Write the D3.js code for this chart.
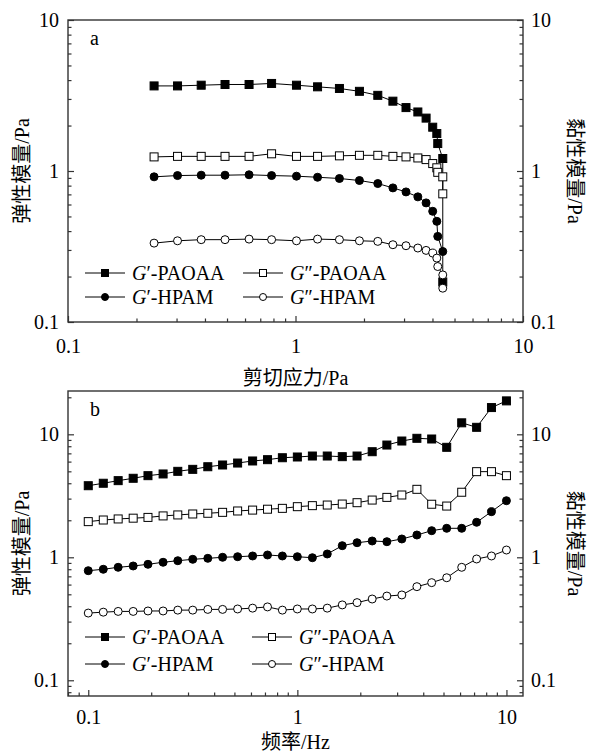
<!DOCTYPE html>
<html>
<head>
<meta charset="utf-8">
<script src="https://cdn.jsdelivr.net/npm/d3@7"></script>
<style>
  html, body { margin: 0; padding: 0; background: #fff; }
  svg { display: block; }
</style>
</head>
<body>
<svg id="chart" width="589" height="754"></svg>
<script>
// ---------------- DATA ----------------
// Panel a: shear stress sweep (Pa)
const stressA = [0.239, 0.303, 0.385, 0.490, 0.625, 0.785, 1.01, 1.25, 1.56, 1.91, 2.30, 2.68, 3.06, 3.45, 3.75, 4.01, 4.18, 4.22, 4.44, 4.44];
const gpPAOAA_A  = [3.66, 3.66, 3.70, 3.74, 3.74, 3.80, 3.70, 3.61, 3.52, 3.37, 3.17, 2.90, 2.63, 2.46, 2.24, 1.95, 1.77, 1.52, 1.21, 0.184];
const gppPAOAA_A = [1.24, 1.25, 1.25, 1.25, 1.25, 1.30, 1.25, 1.25, 1.26, 1.27, 1.27, 1.25, 1.24, 1.22, 1.19, 1.12, 1.05, 0.98, 0.915, 0.706];
const gpHPAM_A   = [0.915, 0.933, 0.938, 0.938, 0.944, 0.933, 0.924, 0.909, 0.892, 0.865, 0.826, 0.773, 0.727, 0.674, 0.615, 0.541, 0.464, 0.369, 0.293];
const gppHPAM_A  = [0.333, 0.345, 0.351, 0.351, 0.354, 0.351, 0.345, 0.354, 0.351, 0.345, 0.342, 0.325, 0.320, 0.309, 0.298, 0.286, 0.265, 0.233, 0.205, 0.1675];

// Panel b: frequency sweep (Hz)
const freqB = [0.1, 0.118, 0.139, 0.164, 0.193, 0.228, 0.268, 0.316, 0.373, 0.439, 0.518, 0.611, 0.720, 0.848, 1.0, 1.18, 1.39, 1.64, 1.93, 2.28, 2.68, 3.16, 3.73, 4.39, 5.18, 6.11, 7.20, 8.48, 10];
const gpPAOAA_B  = [3.82, 4.00, 4.20, 4.39, 4.61, 4.76, 5.00, 5.19, 5.45, 5.63, 5.84, 6.07, 6.22, 6.45, 6.54, 6.66, 6.66, 6.58, 6.66, 7.22, 8.18, 8.82, 9.28, 9.16, 7.84, 12.4, 11.4, 16.5, 18.7];
const gppPAOAA_B = [1.95, 2.01, 2.05, 2.08, 2.11, 2.17, 2.21, 2.25, 2.28, 2.32, 2.38, 2.42, 2.46, 2.50, 2.58, 2.63, 2.66, 2.71, 2.78, 2.92, 3.07, 3.21, 3.57, 2.70, 2.61, 3.38, 4.97, 4.97, 4.61];
const gpHPAM_B   = [0.778, 0.799, 0.829, 0.850, 0.877, 0.911, 0.938, 0.963, 0.981, 1.0, 1.011, 1.025, 1.044, 1.025, 1.011, 0.992, 1.064, 1.243, 1.314, 1.357, 1.339, 1.409, 1.518, 1.646, 1.721, 1.721, 1.926, 2.35, 2.885];
const gppHPAM_B  = [0.352, 0.358, 0.363, 0.363, 0.366, 0.366, 0.372, 0.372, 0.377, 0.377, 0.380, 0.386, 0.395, 0.372, 0.380, 0.380, 0.386, 0.410, 0.428, 0.458, 0.484, 0.494, 0.577, 0.622, 0.682, 0.829, 0.969, 1.025, 1.146];

const seriesNames = ["G′-PAOAA", "G″-PAOAA", "G′-HPAM", "G″-HPAM"];
const majorTicks = [0.1, 1, 10];
const axisTitlesA = { x: "剪切应力/Pa", yl: "弹性模量/Pa", yr: "黏性模量/Pa", tag: "a" };
const axisTitlesB = { x: "频率/Hz",     yl: "弹性模量/Pa", yr: "黏性模量/Pa", tag: "b" };

// ---------------- DRAWING ----------------
const svg = d3.select("#chart");
const serif = "'Liberation Serif', 'Times New Roman', serif";
const cjk = "'Liberation Serif', 'Noto Sans CJK SC', serif";
const axisColor = "#333";

const styles = [
  { shape: "square", fill: "#000" },
  { shape: "square", fill: "#fff" },
  { shape: "circle", fill: "#000" },
  { shape: "circle", fill: "#fff" }
];

function marker(g, shape, fill, cx, cy, size) {
  if (shape === "square") {
    g.append("rect").attr("x", cx - size / 2).attr("y", cy - size / 2)
      .attr("width", size).attr("height", size)
      .attr("fill", fill).attr("stroke", "#000").attr("stroke-width", 1);
  } else {
    g.append("circle").attr("cx", cx).attr("cy", cy).attr("r", size / 2)
      .attr("fill", fill).attr("stroke", "#000").attr("stroke-width", 1);
  }
}

function panel(cfg) {
  const { left, right, top, bottom, xDomain, yDomain, xs, ys, titles, legend } = cfg;
  const x = d3.scaleLog().domain(xDomain).range([left, right]);
  const y = d3.scaleLog().domain(yDomain).range([bottom, top]);
  const g = svg.append("g");

  const xMinor = x.ticks().filter(v => !majorTicks.includes(+v.toPrecision(3)));
  const yMinor = y.ticks().filter(v => !majorTicks.includes(+v.toPrecision(3)));
  const fmt = d => d3.format("~g")(d);

  // bottom axis
  const bx = g.append("g").attr("transform", `translate(0,${bottom})`);
  bx.call(d3.axisBottom(x).tickValues(majorTicks).tickSize(-6).tickPadding(0).tickFormat(fmt));
  bx.call(a => a.select(".domain").remove());
  bx.selectAll(".tick line").attr("stroke", axisColor).attr("stroke-width", 1.2);
  bx.selectAll(".tick text").attr("y", cfg.xLabelDy).attr("dy", 0).attr("font-family", serif)
    .attr("font-size", 20).attr("fill", "#000");
  const bxm = g.append("g").attr("transform", `translate(0,${bottom})`);
  bxm.call(d3.axisBottom(x).tickValues(xMinor).tickSize(-3.5).tickFormat(""));
  bxm.call(a => a.select(".domain").remove());
  bxm.selectAll(".tick line").attr("stroke", axisColor).attr("stroke-width", 1.2);

  // left & right axes
  [["L", left, d3.axisLeft], ["R", right, d3.axisRight]].forEach(([side, px, axFn]) => {
    const ay = g.append("g").attr("transform", `translate(${px},0)`);
    ay.call(axFn(y).tickValues(majorTicks).tickSize(-6).tickPadding(0).tickFormat(fmt));
    ay.call(a => a.select(".domain").remove());
    ay.selectAll(".tick line").attr("stroke", axisColor).attr("stroke-width", 1.2);
    ay.selectAll(".tick text").attr("x", side === "L" ? -9 : 8).attr("dy", "0.33em")
      .attr("font-family", serif).attr("font-size", 20).attr("fill", "#000")
      .attr("text-anchor", side === "L" ? "end" : "start");
    const aym = g.append("g").attr("transform", `translate(${px},0)`);
    aym.call(axFn(y).tickValues(yMinor).tickSize(-3.5).tickFormat(""));
    aym.call(a => a.select(".domain").remove());
    aym.selectAll(".tick line").attr("stroke", axisColor).attr("stroke-width", 1.2);
  });

  // frame
  g.append("rect").attr("x", left).attr("y", top).attr("width", right - left).attr("height", bottom - top)
    .attr("fill", "none").attr("stroke", axisColor).attr("stroke-width", 1.4);

  // series
  const line = d3.line().x(d => x(d[0])).y(d => y(d[1]));
  ys.forEach((vals) => {
    const pts = vals.map((v, j) => [xs[j], v]);
    g.append("path").datum(pts).attr("d", line).attr("fill", "none")
      .attr("stroke", "#000").attr("stroke-width", 1);
  });
  ys.forEach((vals, i) => {
    const mg = g.append("g");
    vals.forEach((v, j) => marker(mg, styles[i].shape, styles[i].fill, x(xs[j]), y(v), 8));
  });

  // legend
  seriesNames.forEach((name, i) => {
    const col = i % 2, row = Math.floor(i / 2);
    const x0 = legend.cols[col], yy = legend.rows[row];
    const lg = g.append("g");
    lg.append("line").attr("x1", x0).attr("x2", x0 + 40).attr("y1", yy).attr("y2", yy)
      .attr("stroke", "#000").attr("stroke-width", 1);
    marker(lg, styles[i].shape, styles[i].fill, x0 + 20, yy, 7);
    const t = lg.append("text").attr("x", x0 + 47).attr("y", yy + 7)
      .attr("font-family", serif).attr("font-size", 20).attr("fill", "#000");
    t.append("tspan").attr("font-style", "italic").text(name.slice(0, 1));
    t.append("tspan").text(name.slice(1));
  });

  // tag
  g.append("text").attr("x", left + 22).attr("y", top + 25).attr("font-family", serif)
    .attr("font-size", 20).attr("fill", "#000").text(titles.tag);

  // axis titles
  const midY = (top + bottom) / 2;
  g.append("text").attr("x", (left + right) / 2).attr("y", cfg.xTitleY)
    .attr("text-anchor", "middle").attr("font-family", cjk).attr("font-size", 20)
    .attr("fill", "#000").text(titles.x);
  g.append("text").attr("transform", `translate(29,${midY}) rotate(-90)`)
    .attr("text-anchor", "middle").attr("font-family", cjk).attr("font-size", 20)
    .attr("fill", "#000").text(titles.yl);
  g.append("text").attr("transform", `translate(568,${midY}) rotate(90)`)
    .attr("text-anchor", "middle").attr("font-family", cjk).attr("font-size", 20)
    .attr("fill", "#000").text(titles.yr);
}

panel({
  left: 68, right: 523, top: 20, bottom: 322,
  xDomain: [0.1, 10], yDomain: [0.1, 10],
  xs: stressA, ys: [gpPAOAA_A, gppPAOAA_A, gpHPAM_A, gppHPAM_A],
  titles: axisTitlesA, xTitleY: 385, xLabelDy: 31,
  legend: { cols: [85, 243], rows: [273, 297] }
});

panel({
  left: 68, right: 523, top: 391, bottom: 696,
  xDomain: [0.08, 12], yDomain: [0.0745, 22.5],
  xs: freqB, ys: [gpPAOAA_B, gppPAOAA_B, gpHPAM_B, gppHPAM_B],
  titles: axisTitlesB, xTitleY: 749, xLabelDy: 28,
  legend: { cols: [85, 252], rows: [637, 664] }
});
</script>
</body>
</html>
